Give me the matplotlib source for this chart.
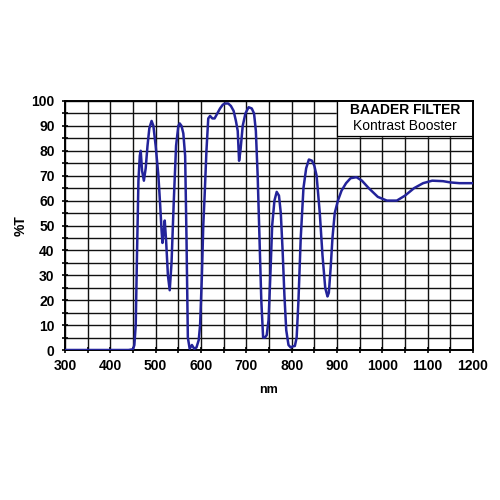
import matplotlib.pyplot as plt
import numpy as np

plt.rcParams['font.family'] = ['Liberation Sans', 'DejaVu Sans']

# transmission curve (nm, %T)
wavelength = [300, 350, 400, 440, 450, 453, 456, 459, 462, 465, 467, 470, 474, 478, 482, 486, 491,
              495, 500, 506, 510, 513, 515, 518, 520, 523, 527, 531, 535, 540, 545, 550, 553,
              557, 561, 565, 568, 571, 575, 580, 585, 590, 595, 598, 602, 605, 608, 612, 616, 620, 625,
              630, 636, 642, 648, 653, 660, 666, 672, 677, 681, 684, 687, 692, 698, 705, 712, 717,
              721, 725, 729, 733, 737, 741, 745, 749, 753, 757, 762, 767, 772, 776, 780, 784,
              788, 793, 798, 803, 807, 811, 815, 820, 826, 832, 838, 845, 850, 855, 862, 868, 874,
              879, 882, 886, 890, 895, 902, 910, 920, 930, 943, 955, 970, 990, 1010, 1032,
              1050, 1070, 1090, 1110, 1134, 1150, 1170, 1200]
transmission = [0, 0, 0, 0, 0.3, 2, 10, 40, 68, 78, 80, 72, 68, 73, 82, 89, 92,
                90, 82, 70, 58, 48, 43, 48, 52, 44, 30, 24, 35, 60, 82, 90, 91,
                90, 87, 78, 45, 5, 0.5, 2, 0.5, 1, 4, 10, 30, 50, 62, 80, 93, 94, 93,
                93, 95, 97, 98.5, 99, 99, 98, 96, 92, 88, 76, 80, 90, 95, 97.5, 97, 95,
                88, 70, 45, 20, 5, 5, 6, 12, 30, 50, 60, 63.5, 62, 55, 40, 22,
                8, 2, 1, 1.5, 1.6, 5, 20, 45, 65, 73, 76.5, 76, 74, 70, 55, 38, 25,
                21.5, 23, 33, 45, 55, 60, 64, 67, 69, 69.4, 68, 65, 61.5, 60, 60,
                62, 65, 67, 68, 67.8, 67.3, 67, 67]

x_min, x_max = 300, 1200
y_min, y_max = 0, 100

fig = plt.figure(figsize=(5, 5), dpi=100)
ax = fig.add_axes([0.13, 0.30, 0.816, 0.498])

ax.plot(wavelength, transmission, color='#23239a', linewidth=1.8, zorder=3)

ax.set_xlim(x_min, x_max)
ax.set_ylim(y_min, y_max)
ax.set_xticks(np.arange(300, 1201, 100))
ax.set_xticks(np.arange(300, 1201, 50), minor=True)
ax.set_yticks(np.arange(0, 101, 10))
ax.set_yticks(np.arange(0, 101, 5), minor=True)
ax.grid(which='both', color='#111111', linewidth=1.0, zorder=1)
ax.set_axisbelow(True)
for s in ax.spines.values():
    s.set_linewidth(1.4)
ax.tick_params(which='both', direction='inout', length=5, width=1.2, labelsize=10)
ax.tick_params(axis='x', pad=4)
ax.tick_params(axis='y', pad=5)
for lab in ax.get_xticklabels() + ax.get_yticklabels():
    lab.set_fontweight('bold')

ax.set_xlabel('nm', fontsize=9, fontweight='bold', labelpad=8)
ax.set_ylabel('%T', fontsize=10, fontweight='bold', labelpad=3)

# legend box
ax.fill_between([900, 1200], 86, 100, color='white', zorder=2)
ax.plot([900, 900, 1200], [100, 86, 86], color='black', linewidth=0.9, zorder=2)
ax.text(1050, 96.2, 'BAADER FILTER', ha='center', va='center', fontsize=10,
        fontweight='bold', zorder=4)
ax.text(1050, 90, 'Kontrast Booster', ha='center', va='center', fontsize=10, zorder=4)

fig.savefig('out.png')
